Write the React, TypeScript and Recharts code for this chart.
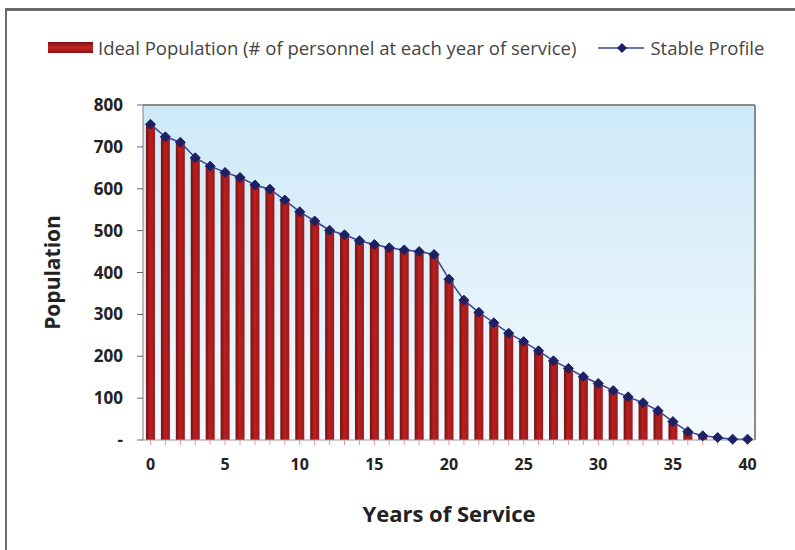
import React from "react";
import {
  ComposedChart,
  Bar,
  Line,
  XAxis,
  YAxis,
  CartesianGrid,
  Label,
} from "recharts";

const years = [
  0, 1, 2, 3, 4, 5, 6, 7, 8, 9, 10, 11, 12, 13, 14, 15, 16, 17, 18, 19, 20,
  21, 22, 23, 24, 25, 26, 27, 28, 29, 30, 31, 32, 33, 34, 35, 36, 37, 38, 39, 40,
];

const idealPopulation = [
  754, 724, 711, 674, 654, 639, 627, 609, 599, 573, 545, 523, 501, 490, 476,
  467, 459, 454, 450, 443, 384, 334, 305, 280, 255, 235, 213, 189, 171, 151,
  135, 118, 103, 89, 70, 44, 20, 10, 6, 2, 2,
];

const stableProfile = [
  754, 724, 711, 674, 654, 639, 627, 609, 599, 573, 545, 523, 501, 490, 476,
  467, 459, 454, 450, 443, 384, 334, 305, 280, 255, 235, 213, 189, 171, 151,
  135, 118, 103, 89, 70, 44, 20, 10, 6, 2, 2,
];

const yTicks = [0, 100, 200, 300, 400, 500, 600, 700, 800];

const barName = "Ideal Population (# of personnel at each year of service)";
const lineName = "Stable Profile";

const data = years.map((y, i) => ({
  year: y,
  ideal: idealPopulation[i],
  stable: stableProfile[i],
}));

const font = "'Open Sans', sans-serif";

function Diamond(props: any) {
  const { cx, cy } = props;
  if (cx == null || cy == null) return null;
  const s = 5;
  return (
    <polygon
      points={`${cx},${cy - s} ${cx + s},${cy} ${cx},${cy + s} ${cx - s},${cy}`}
      fill="#1d2163"
      stroke="#1d2163"
      strokeWidth={1}
    />
  );
}

function YLabel(props: any) {
  const vb = props.viewBox || { x: 0, y: 0, width: 0, height: 0 };
  const x = vb.x + 52;
  const y = vb.y + vb.height / 2;
  return (
    <text
      x={x}
      y={y}
      transform={`rotate(-90, ${x}, ${y})`}
      textAnchor="middle"
      dominantBaseline="central"
      fontFamily={font}
      fontWeight={700}
      fontSize={21}
      fill="#222"
    >
      Population
    </text>
  );
}

function LegendBox() {
  return (
    <div
      style={{
        position: "absolute",
        left: 48,
        top: 35,
        display: "flex",
        alignItems: "center",
        fontFamily: font,
        fontSize: 18.5,
        color: "#444",
        whiteSpace: "nowrap",
      }}
    >
      <span
        style={{
          display: "inline-block",
          width: 45,
          height: 11,
          background: "linear-gradient(180deg, #7d1010, #c42424 50%, #8a1212)",
          marginRight: 5,
        }}
      />
      <span>{barName}</span>
      <svg width={46} height={12} style={{ marginLeft: 22, marginRight: 6 }}>
        <line x1={0} y1={6} x2={46} y2={6} stroke="#3a4595" strokeWidth={1.5} />
        <polygon points="24,1 29,6 24,11 19,6" fill="#1d2163" />
      </svg>
      <span>{lineName}</span>
    </div>
  );
}

export default function App() {
  return (
    <div
      style={{
        position: "absolute",
        left: 0,
        top: 0,
        width: 795,
        height: 550,
        background: "#fff",
        overflow: "hidden",
      }}
    >
      <div
        style={{
          position: "absolute",
          left: 5,
          top: 8,
          right: 0,
          bottom: 0,
          borderTop: "3px solid #6a6a6a",
          borderLeft: "2px solid #6a6a6a",
        }}
      />
      <LegendBox />
      <ComposedChart
        width={795}
        height={550}
        data={data}
        margin={{ top: 104, right: 39, bottom: 0, left: 0 }}
        barCategoryGap="20%"
        style={{ position: "absolute", left: 0, top: 0 }}
      >
        <defs>
          <linearGradient id="plotBg" x1="0" y1="0" x2="0" y2="1">
            <stop offset="0%" stopColor="#cde9f8" />
            <stop offset="100%" stopColor="#f4f9fd" />
          </linearGradient>
          <linearGradient id="barFill" x1="0" y1="0" x2="1" y2="0">
            <stop offset="0%" stopColor="#761010" />
            <stop offset="45%" stopColor="#b82020" />
            <stop offset="100%" stopColor="#9e1919" />
          </linearGradient>
        </defs>
        <CartesianGrid
          fill="url(#plotBg)"
          horizontal={false}
          vertical={false}
        />
        <XAxis
          dataKey="year"
          interval={0}
          height={110}
          tickSize={5}
          tickMargin={14}
          stroke="#9a9aa8"
          tickLine={{ stroke: "#d09aa6" }}
          tickFormatter={(v: number) => (v % 5 === 0 ? String(v) : "")}
          tick={{ fontFamily: font, fontWeight: 700, fontSize: 16, fill: "#222" }}
        >
          <Label
            value="Years of Service"
            position="insideBottom"
            offset={28}
            style={{ fontFamily: font, fontWeight: 700, fontSize: 22, fill: "#222" }}
          />
        </XAxis>
        <XAxis
          xAxisId="top"
          dataKey="year"
          orientation="top"
          height={1}
          tick={false}
          tickLine={false}
          axisLine={{ stroke: "#8a8a8a", strokeWidth: 2 }}
        />
        <YAxis
          domain={[0, 800]}
          ticks={yTicks}
          width={143}
          tickSize={6}
          tickMargin={14}
          stroke="#7a7f9a"
          tickLine={{ stroke: "#666" }}
          tickFormatter={(v: number) => (v === 0 ? "-" : String(v))}
          tick={{ fontFamily: font, fontWeight: 700, fontSize: 17, fill: "#222" }}
        >
          <Label content={<YLabel />} />
        </YAxis>
        <YAxis
          yAxisId="right"
          orientation="right"
          width={1}
          domain={[0, 800]}
          tick={false}
          tickLine={false}
          axisLine={{ stroke: "#8a8a8a", strokeWidth: 2 }}
        />
        <Bar
          dataKey="ideal"
          name={barName}
          fill="url(#barFill)"
          isAnimationActive={false}
        />
        <Line
          type="linear"
          dataKey="stable"
          name={lineName}
          stroke="#3a4595"
          strokeWidth={1.5}
          dot={<Diamond />}
          activeDot={false}
          isAnimationActive={false}
        />
      </ComposedChart>
    </div>
  );
}
